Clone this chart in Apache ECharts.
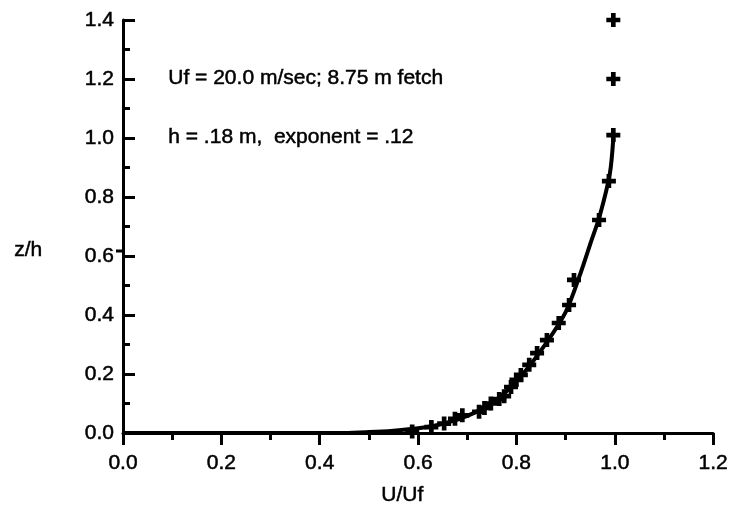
<!DOCTYPE html>
<html>
<head>
  <meta charset="utf-8" />
  <title>U/Uf profile</title>
  <script src="https://cdn.jsdelivr.net/npm/echarts@6/dist/echarts.min.js"></script>
  <style>
    html, body { margin: 0; padding: 0; background: #fff; }
    #main { width: 731px; height: 525px; }
  </style>
</head>
<body>
  <div id="main"></div>
  <script type="text/javascript">
    // measured points (U/Uf, z/h)
    const pointX = [0.588, 0.627, 0.653, 0.675, 0.69, 0.724, 0.735, 0.748, 0.765, 0.775, 0.789, 0.80, 0.809, 0.826, 0.842, 0.862, 0.886, 0.907, 0.917, 0.968, 0.988, 0.997, 0.997, 0.997];
    const pointY = [0.005, 0.02, 0.032, 0.048, 0.06, 0.072, 0.085, 0.10, 0.115, 0.125, 0.156, 0.18, 0.197, 0.231, 0.271, 0.315, 0.373, 0.434, 0.519, 0.722, 0.854, 1.01, 1.2, 1.4];
    // fitted curve
    const curveX = [0, 0.45, 0.5, 0.55, 0.6, 0.65, 0.7, 0.75, 0.8, 0.85, 0.9, 0.93, 0.95, 0.97, 0.99, 0.997];
    const curveY = [0, 0, 0.003, 0.008, 0.016, 0.031, 0.058, 0.1, 0.175, 0.28, 0.41, 0.54, 0.64, 0.74, 0.88, 1.0];
    const xTicks = ['0.0', '0.2', '0.4', '0.6', '0.8', '1.0', '1.2'];
    const yTicks = ['0.0', '0.2', '0.4', '0.6', '0.8', '1.0', '1.2', '1.4'];
    const notes = ['Uf = 20.0 m/sec; 8.75 m fetch', 'h = .18 m,  exponent = .12'];

    const font = 'Liberation Sans, Arial, Helvetica, sans-serif';
    const plus = 'path://M4,0h4v4h4v4h-4v4h-4v-4h-4v-4h4z';
    const txt = { fontFamily: font, fontSize: 21, color: '#000', textBorderColor: '#000', textBorderWidth: 0.5 };

    const myChart = echarts.init(document.getElementById('main'));
    myChart.setOption({
      animation: false,
      grid: { left: 123, right: 16, top: 20, bottom: 92, containLabel: false },
      xAxis: {
        type: 'value', min: 0, max: 1.2, interval: 0.2,
        axisLine: { onZero: false, lineStyle: { color: '#000', width: 3 } },
        axisTick: { inside: false, length: 12, lineStyle: { color: '#000', width: 3 } },
        minorTick: { show: true, splitNumber: 2, length: 7, lineStyle: { color: '#000', width: 3 } },
        axisLabel: Object.assign({ margin: 20, formatter: v => xTicks[Math.round(v / 0.2)] }, txt),
        splitLine: { show: false }
      },
      yAxis: {
        type: 'value', min: 0, max: 1.4, interval: 0.2,
        axisLine: { show: true, onZero: false, lineStyle: { color: '#000', width: 3 } },
        axisTick: { show: true, inside: true, length: 12, lineStyle: { color: '#000', width: 3 } },
        minorTick: { show: true, splitNumber: 2, length: 7, lineStyle: { color: '#000', width: 3 } },
        axisLabel: Object.assign({ margin: 9, formatter: v => yTicks[Math.round(v / 0.2)] }, txt),
        splitLine: { show: false }
      },
      graphic: [
        { type: 'text', left: 14, top: 239, style: { text: 'z/h', font: '21px ' + font, fill: '#000', stroke: '#000', lineWidth: 0.5 } },
        { type: 'line', shape: { x1: 116, y1: 251, x2: 123, y2: 251 }, style: { stroke: '#000', lineWidth: 3 } },
        { type: 'text', left: 168, top: 67, style: { text: notes[0], font: '21px ' + font, fill: '#000', stroke: '#000', lineWidth: 0.5 } },
        { type: 'text', left: 168, top: 126, style: { text: notes[1], font: '21px ' + font, fill: '#000', stroke: '#000', lineWidth: 0.5 } },
        { type: 'text', left: 381, top: 484, style: { text: 'U/Uf', font: '21px ' + font, fill: '#000', stroke: '#000', lineWidth: 0.5 } }
      ],
      series: [
        {
          type: 'line',
          data: curveX.map((x, i) => [x, curveY[i]]),
          smooth: 0.3,
          showSymbol: false,
          lineStyle: { color: '#000', width: 4 },
          z: 2
        },
        {
          type: 'scatter',
          data: pointX.map((x, i) => [x, pointY[i]]),
          symbol: plus,
          symbolSize: 14,
          itemStyle: { color: '#000', opacity: 1 },
          z: 3
        }
      ]
    });
  </script>
</body>
</html>
